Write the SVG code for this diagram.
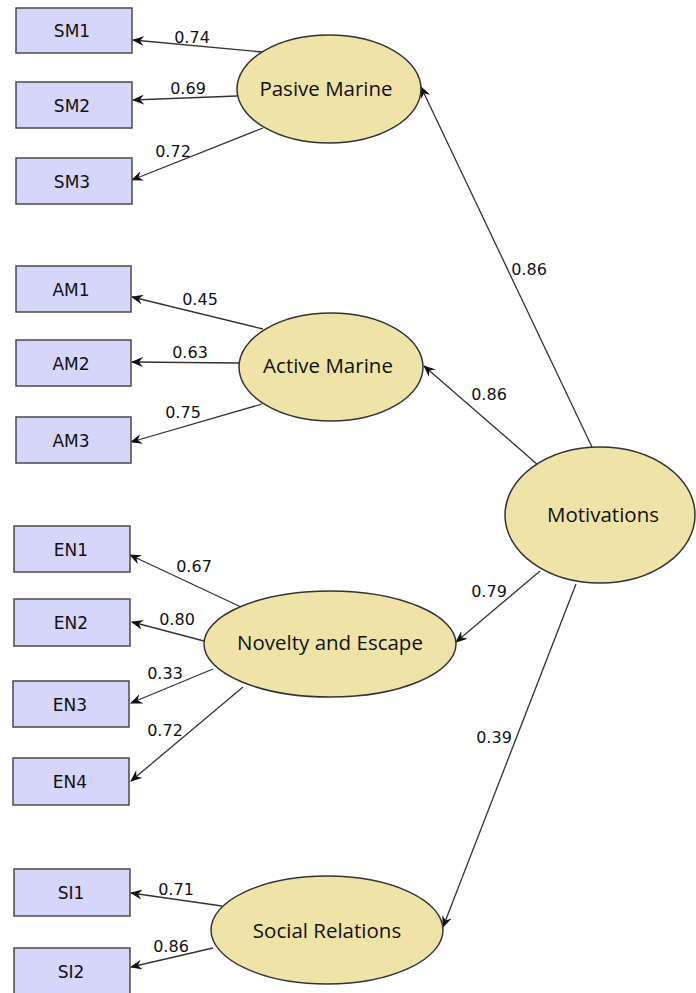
<svg xmlns="http://www.w3.org/2000/svg" width="696" height="993" viewBox="0 0 696 993">
<defs>
<marker id="arr" viewBox="0 0 12 10" refX="11" refY="5" markerWidth="12" markerHeight="10" markerUnits="userSpaceOnUse" orient="auto">
<path d="M0,0 L12,5 L0,10 L4,5 z" fill="#111"/>
</marker>
</defs>
<style>
.box rect{fill:#d6d6fa;stroke:#4a4a4a;stroke-width:1.5}
.box text{font-family:"DejaVu Sans",sans-serif;font-size:17px;fill:#111;text-anchor:middle}
.lat ellipse{fill:#efe3a8;stroke:#333;stroke-width:1.5}
.lat text{font-family:"Open Sans","Noto Sans",sans-serif;font-size:20.5px;fill:#111;text-anchor:middle}
#connectors line{stroke:#333;stroke-width:1.3;marker-end:url(#arr)}
#connectors text{font-family:"DejaVu Sans",sans-serif;font-size:16px;fill:#111;text-anchor:middle}
</style>
<rect width="696" height="993" fill="#fff"/>
<g id="connectors">
<line x1="262" y1="52" x2="133" y2="40"/>
<line x1="237" y1="96" x2="133" y2="100"/>
<line x1="263" y1="128" x2="132" y2="180"/>
<line x1="263" y1="329" x2="132" y2="297"/>
<line x1="239" y1="363" x2="132" y2="362"/>
<line x1="262" y1="404" x2="131" y2="442"/>
<line x1="241" y1="607" x2="130" y2="555"/>
<line x1="204" y1="641" x2="132" y2="622"/>
<line x1="213" y1="669" x2="131" y2="703"/>
<line x1="243" y1="687" x2="131" y2="781"/>
<line x1="222" y1="906" x2="131" y2="893"/>
<line x1="213" y1="948" x2="131" y2="967"/>
<line x1="592" y1="447" x2="421" y2="87"/>
<line x1="538" y1="465" x2="424" y2="366"/>
<line x1="540" y1="571" x2="456" y2="642"/>
<line x1="576" y1="584" x2="443" y2="927"/>
<text x="192" y="43">0.74</text>
<text x="188" y="94">0.69</text>
<text x="173" y="157">0.72</text>
<text x="200" y="305">0.45</text>
<text x="190" y="358">0.63</text>
<text x="183" y="418">0.75</text>
<text x="194" y="572">0.67</text>
<text x="177" y="625">0.80</text>
<text x="165" y="679">0.33</text>
<text x="165" y="736">0.72</text>
<text x="176" y="895">0.71</text>
<text x="171" y="952">0.86</text>
<text x="529" y="275">0.86</text>
<text x="489" y="400">0.86</text>
<text x="489" y="597">0.79</text>
<text x="494" y="743">0.39</text>
</g>
<g id="SM1" class="box"><rect x="16" y="8" width="116" height="45"/><text x="72" y="37">SM1</text></g>
<g id="SM2" class="box"><rect x="16" y="82" width="116" height="46"/><text x="72" y="112">SM2</text></g>
<g id="SM3" class="box"><rect x="16" y="158" width="116" height="46"/><text x="72" y="188">SM3</text></g>
<g id="AM1" class="box"><rect x="16" y="266" width="115" height="46"/><text x="71" y="296">AM1</text></g>
<g id="AM2" class="box"><rect x="16" y="340" width="115" height="46"/><text x="71" y="370">AM2</text></g>
<g id="AM3" class="box"><rect x="16" y="417" width="115" height="46"/><text x="71" y="447">AM3</text></g>
<g id="EN1" class="box"><rect x="14" y="526" width="116" height="46"/><text x="71" y="556">EN1</text></g>
<g id="EN2" class="box"><rect x="14" y="599" width="116" height="47"/><text x="71" y="629">EN2</text></g>
<g id="EN3" class="box"><rect x="13" y="681" width="116" height="46"/><text x="70" y="711">EN3</text></g>
<g id="EN4" class="box"><rect x="13" y="758" width="116" height="47"/><text x="70" y="788">EN4</text></g>
<g id="SI1" class="box"><rect x="14" y="869" width="116" height="47"/><text x="71" y="899">SI1</text></g>
<g id="SI2" class="box"><rect x="14" y="948" width="116" height="46"/><text x="71" y="978">SI2</text></g>
<g id="PasiveMarine" class="lat"><ellipse cx="329" cy="89" rx="92" ry="54"/><text x="326" y="96">Pasive Marine</text></g>
<g id="ActiveMarine" class="lat"><ellipse cx="331" cy="367" rx="92" ry="54"/><text x="328" y="373">Active Marine</text></g>
<g id="NoveltyEscape" class="lat"><ellipse cx="330" cy="644" rx="126" ry="53"/><text x="330" y="650">Novelty and Escape</text></g>
<g id="SocialRelations" class="lat"><ellipse cx="327" cy="930" rx="116" ry="54"/><text x="327" y="938">Social Relations</text></g>
<g id="Motivations" class="lat"><ellipse cx="600" cy="515" rx="95" ry="68"/><text x="603" y="522">Motivations</text></g>
</svg>
